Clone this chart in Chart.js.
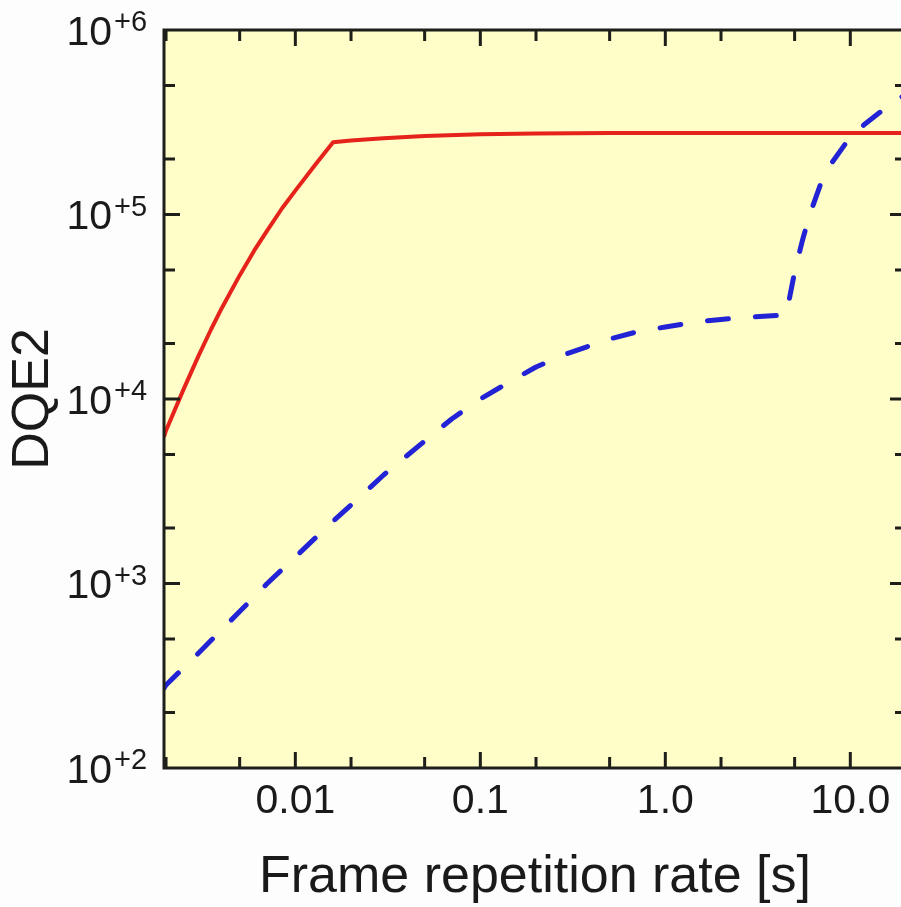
<!DOCTYPE html>
<html>
<head>
<meta charset="utf-8">
<script src="https://cdn.jsdelivr.net/npm/chart.js@4/dist/chart.umd.min.js"></script>
<style>
  html, body { margin: 0; padding: 0; background: #fdfdfd; overflow: hidden; width: 901px; height: 907px; }
  #wrap { width: 901px; height: 907px; overflow: hidden; position: relative; }
  #c { position: absolute; left: 0; top: 0; }
</style>
</head>
<body>
<div id="wrap"><canvas id="c" width="906" height="907"></canvas></div>
<script>
// ---- data ----
const redX  = [0.00195, 0.002, 0.0025, 0.003, 0.0035, 0.004, 0.005, 0.006, 0.007, 0.0085, 0.01, 0.013, 0.016, 0.02, 0.03, 0.05, 0.1, 0.2, 0.5, 1, 20];
const redY  = [6223, 6750, 11415, 17190, 23810, 31050, 46770, 63890, 80990, 108440, 134750, 189700, 246600, 251500, 258800, 266400, 272100, 274500, 276200, 276500, 276500];

const blueX = [0.00195, 0.002, 0.003, 0.005, 0.007, 0.01, 0.015, 0.02, 0.03, 0.05, 0.07, 0.1, 0.15, 0.2, 0.3, 0.5, 0.7, 1, 1.5, 2, 3, 4, 4.5, 5, 5.5, 6, 7, 8, 10, 12, 15, 20];
const blueY = [271, 282, 420, 705, 994, 1392, 2050, 2665, 3874, 5922, 7791, 10000, 12680, 14910, 17750, 21150, 23110, 24560, 26230, 27000, 27880, 28330, 28480, 48800, 71850, 98150, 151900, 192600, 263200, 309500, 368500, 449900];

const xTickValues  = [0.002, 0.005, 0.01, 0.02, 0.05, 0.1, 0.2, 0.5, 1, 2, 5, 10, 20];
const xMajorValues = [0.01, 0.1, 1, 10];
const xMajorLabels = ['0.01', '0.1', '1.0', '10.0'];

const yMajorValues = [100, 1000, 10000, 100000, 1000000];
const yMajorBase   = ['10', '10', '10', '10', '10'];
const yMajorExp    = ['+2', '+3', '+4', '+5', '+6'];
const yMinorValues = [200, 500, 2000, 5000, 20000, 50000, 200000, 500000];

const xTitle = 'Frame repetition rate [s]';
const yTitle = 'DQE2';

// ---- helpers ----
const FONT = '"Liberation Sans", Arial, Helvetica, sans-serif';
const zip = (xs, ys) => xs.map((x, i) => ({ x: x, y: ys[i] }));
const isMajorX = v => xMajorValues.some(m => Math.abs(Math.log10(v) - Math.log10(m)) < 1e-6);

const frame = {
  id: 'frame',
  beforeDraw(chart) {
    const { ctx, chartArea: a } = chart;
    ctx.save();
    ctx.fillStyle = '#fdfdfd';
    ctx.fillRect(0, 0, chart.width, chart.height);
    ctx.fillStyle = '#fffdc8';
    ctx.fillRect(a.left, a.top, a.right - a.left, a.bottom - a.top);
    ctx.restore();
  },
  afterDraw(chart) {
    const { ctx, chartArea: a, scales } = chart;
    const xs = scales.x, ys = scales.y;
    const MAJ = 16, MIN = 11;
    ctx.save();
    ctx.strokeStyle = '#1e1e1a';
    ctx.lineWidth = 3;
    ctx.lineCap = 'butt';
    xTickValues.forEach(v => {
      const p = xs.getPixelForValue(v);
      if (p < a.left + 1 || p > a.right - 1) return;
      const L = isMajorX(v) ? MAJ : MIN;
      ctx.beginPath();
      ctx.moveTo(p, a.bottom); ctx.lineTo(p, a.bottom - L);
      ctx.moveTo(p, a.top); ctx.lineTo(p, a.top + L);
      ctx.stroke();
    });
    const yt = [...yMajorValues.map(v => [v, MAJ]), ...yMinorValues.map(v => [v, MIN])];
    yt.forEach(([v, L]) => {
      const p = ys.getPixelForValue(v);
      if (p < a.top + 1 || p > a.bottom - 1) return;
      ctx.beginPath();
      ctx.moveTo(a.left, p); ctx.lineTo(a.left + L, p);
      ctx.moveTo(a.right, p); ctx.lineTo(a.right - L, p);
      ctx.stroke();
    });
    ctx.strokeRect(a.left, a.top, a.right - a.left, a.bottom - a.top);
    ctx.fillStyle = '#1a1a1a';
    yMajorValues.forEach((v, i) => {
      const p = ys.getPixelForValue(v);
      ctx.font = '41px ' + FONT;
      ctx.textAlign = 'right';
      ctx.textBaseline = 'alphabetic';
      ctx.fillText(yMajorBase[i], 112, p + 14.5);
      ctx.font = '29px ' + FONT;
      ctx.textAlign = 'left';
      ctx.fillText(yMajorExp[i], 114, p + 1);
    });
    ctx.restore();
  }
};

new Chart(document.getElementById('c'), {
  type: 'line',
  data: {
    datasets: [
      {
        label: 'solid',
        data: zip(redX, redY),
        borderColor: '#e6231b',
        borderWidth: 4,
        pointRadius: 0,
        tension: 0,
        fill: false,
        borderJoinStyle: 'round'
      },
      {
        label: 'dashed',
        data: zip(blueX, blueY),
        borderColor: '#2323d6',
        borderWidth: 5,
        borderDash: [21, 27],
        borderCapStyle: 'round',
        borderJoinStyle: 'round',
        pointRadius: 0,
        tension: 0,
        fill: false
      }
    ]
  },
  options: {
    responsive: false,
    animation: false,
    devicePixelRatio: 1,
    layout: { padding: { left: 0, top: 30, right: 0, bottom: 0 } },
    plugins: { legend: { display: false }, tooltip: { enabled: false } },
    scales: {
      x: {
        type: 'logarithmic',
        position: 'bottom',
        min: 0.00195,
        max: 20,
        grid: { display: false, drawTicks: false },
        border: { display: false },
        afterBuildTicks: s => { s.ticks = xTickValues.map(v => ({ value: v })); },
        afterFit: s => { s.height = 139; },
        ticks: {
          autoSkip: false,
          maxRotation: 0,
          minRotation: 0,
          padding: 0,
          color: '#1a1a1a',
          font: { family: FONT, size: 41, lineHeight: '68px' },
          callback: (v) => {
            const i = xMajorValues.findIndex(m => Math.abs(Math.log10(v) - Math.log10(m)) < 1e-6);
            return i >= 0 ? xMajorLabels[i] : '';
          }
        },
        title: {
          display: true,
          text: xTitle,
          color: '#1a1a1a',
          font: { family: FONT, size: 52, lineHeight: 1 },
          padding: { top: 0, bottom: 3 }
        }
      },
      y: {
        type: 'logarithmic',
        position: 'left',
        min: 100,
        max: 1000000,
        grid: { display: false, drawTicks: false },
        border: { display: false },
        ticks: { display: false },
        afterFit: s => { s.width = 164; },
        title: {
          display: true,
          text: yTitle,
          color: '#1a1a1a',
          font: { family: FONT, size: 52, lineHeight: 1 },
          padding: { top: 8, bottom: 0 }
        }
      }
    }
  },
  plugins: [frame]
});
</script>
</body>
</html>
